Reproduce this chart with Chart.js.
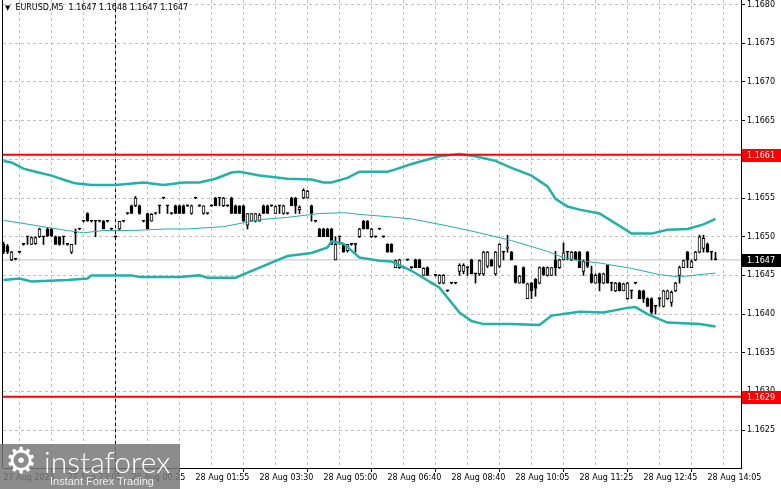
<!DOCTYPE html>
<html>
<head>
<meta charset="utf-8">
<script src="https://cdn.jsdelivr.net/npm/chart.js@4.4.1/dist/chart.umd.min.js"></script>
<style>
  html, body { margin: 0; padding: 0; background: #fff; overflow: hidden; }
  #wrap { position: relative; width: 781px; height: 489px; }
  #title { position: absolute; left: 5px; top: 3px; font: 8px "DejaVu Sans", sans-serif; color: #000; white-space: pre; }
  #title .tri { font-size: 7px; margin-right: 5px; }
  #logo { position: absolute; left: 0; top: 444px; width: 180px; height: 45px; background: rgba(120,120,120,0.85); overflow: hidden; }
  #logo .gear { position: absolute; left: 5px; top: -4px; font: 36px "DejaVu Sans", sans-serif; color: #fff; }
  #logo .brand { position: absolute; left: 44px; top: -1px; font: 300 30px Lato, "Open Sans", sans-serif; color: #fff; }
  #logo .tag { position: absolute; left: 50px; top: 31px; font: 11px "Liberation Sans", sans-serif; color: #eee; }
</style>
</head>
<body>
<div id="wrap">
  <canvas id="chart" width="781" height="489"></canvas>
  <div id="title"></div>
  <div id="logo"><span class="gear">⚙</span><span class="brand">instaforex</span><span class="tag">Instant Forex Trading</span></div>
</div>
<script>
  // EURUSD M5 candles, one entry per bar (bar 0 = leftmost)
  const open = [
    1.1649,1.16488,1.1647,1.16471,1.1648,1.1649,1.165,1.1649,1.16491,1.165,
    1.165,1.1651,1.1651,1.165,1.165,1.165,1.1649,1.1648,1.16505,1.1651,
    1.1652,1.1653,1.1652,1.1652,1.1652,1.1652,1.1652,1.1651,1.165,1.1651,
    1.1652,1.1653,1.1654,1.1654,1.1654,1.1652,1.1653,1.1652,1.1653,1.1654,
    1.1655,1.1654,1.1653,1.1654,1.1654,1.1654,1.1654,1.1653,1.1655,1.1654,
    1.1653,1.1653,1.1654,1.1655,1.1655,1.1654,1.1654,1.1655,1.1654,1.1654,
    1.1654,1.16515,1.1652,1.1652,1.1652,1.1654,1.1654,1.1654,1.1653,1.1654,
    1.1653,1.1653,1.1655,1.1655,1.16535,1.1655,1.1655,1.1654,1.1652,1.1651,
    1.1651,1.1651,1.1651,1.1647,1.165,1.1649,1.16482,1.1649,1.1649,1.165,
    1.1652,1.1652,1.165,1.165,1.1651,1.165,1.1649,1.1649,1.1646,1.1646,
    1.1646,1.1647,1.1646,1.1647,1.1647,1.1645,1.1646,1.1644,1.1645,1.1644,
    1.1644,1.1643,1.1644,1.1644,1.16455,1.16455,1.1646,1.1647,1.16452,1.16452,
    1.16452,1.16462,1.1647,1.16452,1.16462,1.1648,1.16485,1.1648,1.16462,1.1644,
    1.1646,1.1642,1.1644,1.16445,1.1644,1.1646,1.1645,1.1645,1.1647,1.1646,
    1.1647,1.1648,1.1647,1.1648,1.1648,1.16455,1.1648,1.16452,1.1644,1.16452,
    1.1644,1.16463,1.1644,1.1643,1.1644,1.1643,1.1642,1.1643,1.1644,1.1643,
    1.1643,1.1642,1.1642,1.1641,1.1642,1.1641,1.1642,1.16415,1.1643,1.1645,
    1.1646,1.1648,1.1646,1.1647,1.1648,1.16485,1.1649,1.1648,1.1647
  ];
  const high = [
    1.16493,1.1649,1.16481,1.16472,1.16481,1.16491,1.165,1.165,1.165,1.16511,
    1.165,1.16512,1.16511,1.16501,1.165,1.165,1.16491,1.1649,1.1651,1.16511,
    1.16521,1.16531,1.16521,1.1652,1.16521,1.16521,1.16521,1.16511,1.16501,1.1652,
    1.16521,1.16531,1.16541,1.16552,1.16541,1.16521,1.1653,1.1653,1.16531,1.1654,
    1.16551,1.1654,1.16531,1.16541,1.16541,1.16541,1.16541,1.16541,1.16551,1.16541,
    1.1654,1.16531,1.16541,1.16551,1.1655,1.16551,1.16541,1.16551,1.16541,1.1654,
    1.16541,1.1653,1.1653,1.1653,1.1653,1.16541,1.16541,1.16541,1.1654,1.1654,
    1.16541,1.16531,1.16551,1.16551,1.1654,1.16562,1.1656,1.16541,1.16521,1.16511,
    1.16511,1.16511,1.16511,1.165,1.165,1.16491,1.1649,1.16491,1.1649,1.16511,
    1.16521,1.16521,1.16511,1.16501,1.16511,1.16501,1.16491,1.16491,1.1647,1.16471,
    1.16461,1.16471,1.16461,1.16471,1.16471,1.1646,1.16461,1.16441,1.16451,1.16451,
    1.16451,1.16431,1.16441,1.16441,1.16465,1.16465,1.1646,1.16471,1.16452,1.1647,
    1.16481,1.16481,1.16471,1.16481,1.16491,1.1648,1.16502,1.16481,1.16463,1.1645,
    1.16461,1.1644,1.16441,1.16446,1.16461,1.16461,1.16461,1.1646,1.16481,1.16471,
    1.16492,1.1648,1.16481,1.16481,1.16481,1.1647,1.16481,1.16462,1.16452,1.16453,
    1.16453,1.16464,1.1644,1.16441,1.16441,1.1644,1.16441,1.1643,1.16441,1.16431,
    1.16431,1.16421,1.16421,1.1641,1.1642,1.16431,1.16431,1.1643,1.16441,1.16462,
    1.1647,1.16481,1.1647,1.16481,1.16502,1.16502,1.16492,1.1648,1.1648
  ];
  const low = [
    1.16478,1.16478,1.16469,1.1647,1.16479,1.16489,1.1649,1.1649,1.1649,1.16499,
    1.1649,1.165,1.165,1.1649,1.16489,1.1649,1.16489,1.16478,1.1649,1.16509,
    1.16519,1.1652,1.16519,1.165,1.16519,1.1651,1.16519,1.16509,1.16499,1.16509,
    1.16519,1.16529,1.1653,1.16539,1.16529,1.16519,1.1651,1.1652,1.16529,1.1653,
    1.16549,1.1653,1.16529,1.1653,1.1653,1.1653,1.16539,1.16529,1.16549,1.16539,
    1.16529,1.16529,1.16539,1.1654,1.1654,1.16539,1.16539,1.1653,1.1653,1.1653,
    1.1652,1.1651,1.1652,1.16519,1.1652,1.1653,1.1653,1.16539,1.1653,1.1653,
    1.16529,1.16529,1.1654,1.1653,1.1653,1.16549,1.1655,1.1652,1.16519,1.165,
    1.165,1.165,1.1649,1.1647,1.1649,1.1648,1.1648,1.16489,1.1648,1.16499,
    1.1651,1.1651,1.16499,1.16499,1.16509,1.16499,1.1648,1.1648,1.1646,1.16459,
    1.16459,1.16469,1.16459,1.1646,1.1646,1.1645,1.1645,1.16439,1.16449,1.16439,
    1.16439,1.16429,1.16439,1.16439,1.1645,1.16452,1.1645,1.16452,1.1644,1.1645,
    1.1645,1.1646,1.16462,1.1645,1.1646,1.1647,1.1648,1.1647,1.1644,1.1644,
    1.1644,1.1642,1.1642,1.16423,1.16439,1.1645,1.16449,1.1645,1.1645,1.16459,
    1.1647,1.1647,1.16469,1.1647,1.1646,1.1645,1.1646,1.1644,1.1644,1.1643,
    1.16439,1.1644,1.1643,1.16429,1.1643,1.1643,1.16419,1.1642,1.16439,1.1642,
    1.16415,1.1641,1.164,1.164,1.1641,1.16409,1.16419,1.1641,1.16429,1.1644,
    1.1646,1.1646,1.1646,1.16469,1.16479,1.1648,1.1648,1.1647,1.1647
  ];
  const close = [
    1.1648,1.1648,1.1648,1.16471,1.1648,1.1649,1.165,1.16499,1.16499,1.1651,
    1.165,1.16501,1.16501,1.1649,1.1649,1.165,1.1649,1.1649,1.16505,1.1651,
    1.1652,1.1652,1.1652,1.1652,1.1652,1.1651,1.1652,1.1651,1.165,1.1652,
    1.1652,1.1653,1.1653,1.1655,1.1653,1.1652,1.1651,1.16529,1.1653,1.1654,
    1.1655,1.1654,1.1653,1.1653,1.1653,1.1653,1.1654,1.1654,1.1655,1.1654,
    1.1654,1.1653,1.1654,1.1654,1.1655,1.1655,1.1654,1.1653,1.1653,1.1653,
    1.1652,1.1653,1.1653,1.1653,1.16528,1.1653,1.1653,1.1654,1.16539,1.1654,
    1.1654,1.1653,1.1654,1.1654,1.16538,1.1656,1.16559,1.1653,1.1652,1.165,
    1.165,1.165,1.1649,1.1649,1.165,1.1648,1.1649,1.1649,1.1649,1.1651,
    1.1651,1.1651,1.1651,1.165,1.1651,1.165,1.1648,1.1648,1.16469,1.1647,
    1.1646,1.1647,1.1646,1.1646,1.1646,1.16459,1.1645,1.1644,1.1645,1.1645,
    1.1645,1.1643,1.1644,1.1644,1.16463,1.16463,1.1646,1.16452,1.16452,1.16469,
    1.1648,1.1648,1.16462,1.1648,1.1649,1.1648,1.16486,1.1647,1.16441,1.16449,
    1.1644,1.16439,1.1643,1.16433,1.1646,1.16451,1.1646,1.1646,1.1646,1.1647,
    1.16479,1.1648,1.1648,1.1647,1.1646,1.16468,1.16462,1.16441,1.1645,1.1644,
    1.16452,1.1644,1.1644,1.1644,1.1643,1.16439,1.1644,1.1643,1.1644,1.1642,
    1.1642,1.1641,1.16402,1.1641,1.1642,1.1643,1.1643,1.16428,1.1644,1.1646,
    1.16469,1.1647,1.16468,1.1648,1.165,1.16498,1.1648,1.1648,1.1647
  ];

  // Bollinger bands, read at selected bars
  const upperBars = [0,2,5,8,12,16,18,22,28,35,40,45,49,53,57,59,64,71,77,80,82,86,89,96,98,102,109,114,118,123,127,132,136,138,141,144,149,154,157,162,166,171,175,178];
  const upperBand = [1.16598,1.16596,1.16588,1.16584,1.16579,1.16572,1.16569,1.16567,1.16567,1.1657,
    1.16567,1.1657,1.1657,1.16575,1.16583,1.16584,1.16579,1.16575,1.16574,1.1657,
    1.1657,1.16576,1.16584,1.16584,1.16587,1.16594,1.16604,1.16607,1.16604,1.16598,
    1.16589,1.16579,1.16565,1.16549,1.16539,1.16535,1.1653,1.16514,1.16504,1.16504,
    1.16509,1.1651,1.16516,1.16523];
  const midBars = [0,4,11,16,20,25,32,41,46,55,64,71,79,85,91,96,102,111,119,127,136,140,144,149,157,164,169,174,178];
  const midBand = [1.16521,1.16518,1.16512,1.16508,1.16505,1.16508,1.16508,1.1651,1.1651,1.16513,
    1.16522,1.16525,1.1653,1.16531,1.16528,1.16526,1.16523,1.16514,1.16505,1.16495,
    1.16481,1.16473,1.16469,1.16466,1.16459,1.16451,1.16448,1.16451,1.16453];
  const lowerBars = [0,4,7,16,21,22,32,34,44,49,51,58,64,71,77,81,82,85,89,94,97,102,109,114,117,120,127,134,137,144,150,156,158,161,166,174,178];
  const lowerBand = [1.16444,1.16446,1.16442,1.16444,1.16446,1.1645,1.1645,1.16448,1.16448,1.1645,
    1.16447,1.16447,1.1646,1.16475,1.16479,1.16486,1.16494,1.16491,1.16473,1.16469,
    1.16468,1.16456,1.16434,1.16402,1.16391,1.16387,1.16387,1.16386,1.16398,1.16403,
    1.16402,1.16408,1.16409,1.164,1.16389,1.16387,1.16384];

  // horizontal levels (red) and day separator
  const levels = [1.16606, 1.16293];
  const dayStartBar = 28;

  // axis labels
  const labelBars = [0,16,32,48,64,80,96,112,128,144,160,176];
  const timeLabels = ['27 Aug 2025','27 Aug 23:05','28 Aug 00:25','28 Aug 01:55','28 Aug 03:30','28 Aug 05:00',
    '28 Aug 06:40','28 Aug 08:40','28 Aug 10:05','28 Aug 11:25','28 Aug 12:45','28 Aug 14:05'];
  const gridBars = [0,8,16,24,32,40,48,56,64,72,80,88,96,104,112,120,128,136,144,152,160,168,176,184];
  const priceTicks = [1.1625,1.1630,1.1635,1.1640,1.1645,1.1650,1.1655,1.1660,1.1665,1.1670,1.1675,1.1680];

  const xMin = -0.125, xMax = 184.375;
  const yMin = 1.16201, yMax = 1.16806;
  const last = open.length - 1;
  const lastClose = close[last];

  document.getElementById('title').innerHTML = '<span class="tri">▼</span>EURUSD,M5  ' +
    [open[last], high[last], low[last], close[last]].map(v => v.toFixed(4)).join(' ');

  const FONT = { family: '"DejaVu Sans", sans-serif', size: 8 };
  const band = (bars, vals) => bars.map((b, i) => ({ x: b, y: vals[i] }));
  const hline = v => [{ x: xMin, y: v }, { x: xMax, y: v }];
  const noPad = s => { s.paddingTop = 0; s.paddingBottom = 0; s.paddingLeft = 0; s.paddingRight = 0; };

  const frame = {
    id: 'frame',
    afterDraw(chart) {
      const { ctx, chartArea } = chart;
      const ys = chart.scales.y;
      ctx.save();
      ctx.strokeStyle = '#000';
      ctx.lineWidth = 1;
      ctx.beginPath();
      ctx.moveTo(chartArea.left - 0.5, 0);
      ctx.lineTo(chartArea.left - 0.5, chartArea.bottom);
      ctx.stroke();
      // price tags on the right scale
      const tags = levels.map(v => ({ v, bg: '#ff0000' })).concat([{ v: lastClose, bg: '#000000' }]);
      ctx.font = '8px "DejaVu Sans", sans-serif';
      ctx.textBaseline = 'middle';
      tags.forEach(t => {
        const py = Math.round(ys.getPixelForValue(t.v));
        ctx.fillStyle = t.bg;
        ctx.fillRect(chartArea.right + 1, py - 6, 39, 13);
        ctx.fillStyle = '#fff';
        ctx.fillText(t.v.toFixed(4), chartArea.right + 6, py + 1);
      });
      ctx.restore();
    }
  };

  new Chart(document.getElementById('chart'), {
    type: 'bar',
    data: {
      datasets: [
        { type: 'line', data: hline(levels[0]), borderColor: '#ff0000', borderWidth: 2, pointRadius: 0, order: 1 },
        { type: 'line', data: hline(levels[1]), borderColor: '#ff0000', borderWidth: 2, pointRadius: 0, order: 1 },
        { type: 'line', data: band(upperBars, upperBand), borderColor: '#20b2aa', borderWidth: 2.5, pointRadius: 0, order: 2 },
        { type: 'line', data: band(midBars, midBand), borderColor: '#20b2aa', borderWidth: 1, pointRadius: 0, order: 2 },
        { type: 'line', data: band(lowerBars, lowerBand), borderColor: '#20b2aa', borderWidth: 2.5, pointRadius: 0, order: 2 },
        {
          data: open.map((o, i) => ({ x: i, y: [o, close[i]] })),
          backgroundColor: open.map((o, i) => close[i] > o ? '#ffffff' : '#000000'),
          borderColor: '#000', borderWidth: 1, borderSkipped: false,
          barThickness: 3, minBarLength: 1, grouped: false, order: 4
        },
        {
          data: open.map((o, i) => ({ x: i, y: [low[i], high[i]] })),
          backgroundColor: '#000', barThickness: 1, minBarLength: 1, grouped: false, order: 5
        },
        { type: 'line', data: [{ x: dayStartBar, y: yMin }, { x: dayStartBar, y: yMax }],
          borderColor: '#000', borderWidth: 1, borderDash: [3, 3], pointRadius: 0, order: 6 },
        { type: 'line', data: hline(lastClose), borderColor: '#c0c0c0', borderWidth: 1, pointRadius: 0, order: 7 }
      ]
    },
    options: {
      responsive: false,
      animation: false,
      devicePixelRatio: 1,
      events: [],
      layout: { padding: { left: 3, right: 0, top: 0, bottom: 0 } },
      plugins: { legend: { display: false }, tooltip: { enabled: false }, title: { display: false } },
      scales: {
        x: {
          type: 'linear', min: xMin, max: xMax, offset: false,
          afterBuildTicks: s => { s.ticks = gridBars.map(v => ({ value: v })); },
          afterFit: s => { s.height = 21; noPad(s); },
          grid: {
            color: '#c0c0c0', lineWidth: 1, tickLength: 4,
            tickColor: c => (c.tick && labelBars.includes(c.tick.value)) ? '#000' : 'rgba(0,0,0,0)',
            tickBorderDash: []
          },
          border: { display: true, color: '#000', width: 1, dash: [3, 3] },
          ticks: {
            autoSkip: false, maxRotation: 0, minRotation: 0, align: 'start', padding: 1,
            color: '#000', font: FONT,
            callback: v => { const i = labelBars.indexOf(v); return i >= 0 ? timeLabels[i] : ''; }
          }
        },
        y: {
          position: 'right', min: yMin, max: yMax,
          afterBuildTicks: s => { s.ticks = priceTicks.map(v => ({ value: v })); },
          afterFit: s => { s.width = 40; noPad(s); },
          grid: { color: '#c0c0c0', lineWidth: 1, tickLength: 4, tickColor: '#000', tickBorderDash: [] },
          border: { display: true, color: '#000', width: 1, dash: [3, 3] },
          ticks: { color: '#000', font: FONT, padding: 2, callback: v => Number(v).toFixed(4) }
        }
      }
    },
    plugins: [frame]
  });
</script>
</body>
</html>
